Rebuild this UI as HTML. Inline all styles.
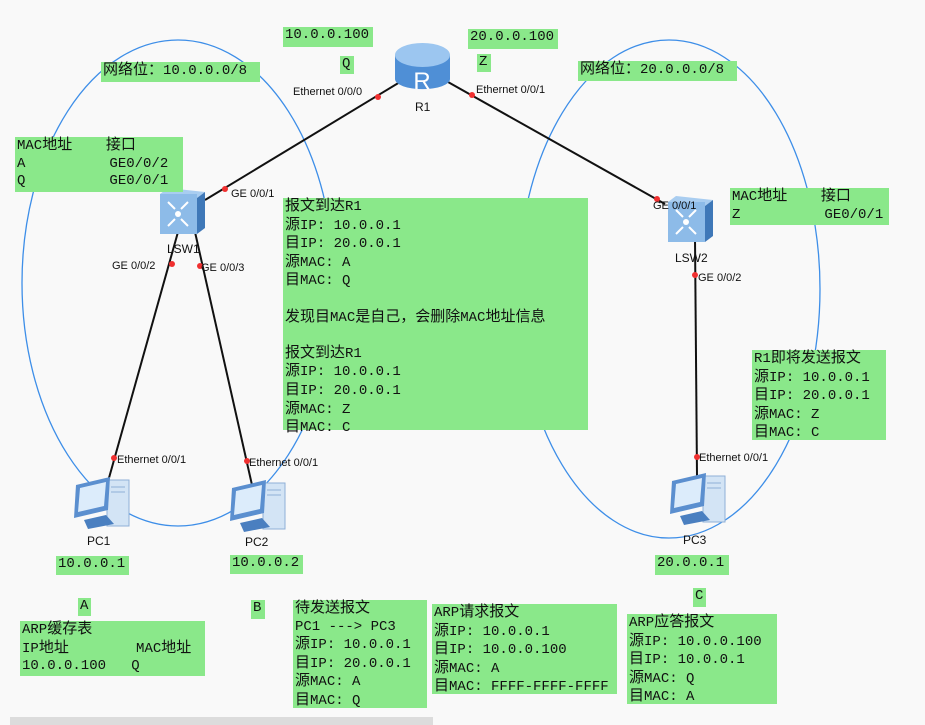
<!DOCTYPE html>
<html><head><meta charset="utf-8">
<style>
body{margin:0;width:925px;height:725px;background:#f9f9f9;overflow:hidden;position:relative;font-family:"Liberation Mono","Noto Sans CJK SC",monospace;}
.b{position:absolute;background:#8ae88a;font-size:14px;line-height:17.6px;color:#111;white-space:pre;padding:0 2px;box-sizing:border-box;overflow:visible}
.b .c{font-size:15px}
svg{position:absolute;left:0;top:0}
.l{font-family:"Liberation Sans",sans-serif;font-size:11px;fill:#111}
</style></head><body>
<svg width="925" height="725">
<defs>
<g id="pc">
<rect x="35" y="3" width="22" height="46" fill="#d3e4f5" stroke="#8fb0d6"/>
<line x1="39" y1="10" x2="53" y2="10" stroke="#8fb0d6"/><line x1="39" y1="15" x2="53" y2="15" stroke="#8fb0d6"/>
<polygon points="4,8 38,0 36,33 2,41" fill="#5b8fcf"/>
<polygon points="8,11 34,5 32,29 6,35" fill="#dcecfb"/>
<polygon points="12,43 34,38 42,47 16,52" fill="#4a7fc0"/>
</g>
<g id="sw">
<polygon points="0,6 8,0 45,4 37,10" fill="#a9cdf0"/>
<polygon points="37,10 45,4 45,40 37,46" fill="#3f78b8"/>
<rect x="0" y="6" width="37" height="40" fill="#8dbbe8"/>
<circle cx="18" cy="26" r="3" fill="#fff"/>
<path d="M8 14l7 7M28 14l-7 7M8 38l7-7M28 38l-7-7" stroke="#fff" stroke-width="2"/>
</g>
</defs>
<rect x="10" y="717" width="423" height="8" fill="#dcdcdc"/>
<ellipse cx="178" cy="283" rx="156" ry="243" fill="none" stroke="#3d8ee8" stroke-width="1.3"/>
<ellipse cx="669" cy="289" rx="151" ry="249" fill="none" stroke="#3d8ee8" stroke-width="1.3"/>
<g stroke="#111" stroke-width="2">
<line x1="400" y1="82" x2="205" y2="200"/>
<line x1="448" y1="82" x2="665" y2="204"/>
<line x1="178" y1="232" x2="100" y2="510"/>
<line x1="195" y1="232" x2="252" y2="485"/>
<line x1="695" y1="238" x2="697" y2="476"/>
</g>
<g fill="#f03030">
<circle cx="378" cy="97" r="3"/><circle cx="225" cy="189" r="3"/>
<circle cx="472" cy="95" r="3"/><circle cx="657" cy="199" r="3"/>
<circle cx="172" cy="264" r="3"/><circle cx="200" cy="266" r="3"/>
<circle cx="114" cy="458" r="3"/><circle cx="247" cy="461" r="3"/>
<circle cx="695" cy="275" r="3"/><circle cx="697" cy="457" r="3"/>
</g>
<path d="M395 55 v24 a27 10 0 0 0 55 0 v-24z" fill="#4f8fd6"/>
<ellipse cx="422.5" cy="55" rx="27.5" ry="12" fill="#9cc6f0"/>
<text x="422" y="89" font-family="Liberation Sans,sans-serif" font-size="24" fill="#fff" text-anchor="middle">R</text>
<use href="#sw" x="160" y="188"/>
<use href="#sw" x="668" y="196"/>
<use href="#pc" x="72" y="477"/>
<use href="#pc" x="228" y="480"/>
<use href="#pc" x="668" y="473"/>
<g class="l">
<text x="293" y="95">Ethernet 0/0/0</text>
<text x="476" y="93">Ethernet 0/0/1</text>
<text x="231" y="197">GE 0/0/1</text>
<text x="653" y="209">GE 0/0/1</text>
<text x="112" y="269">GE 0/0/2</text>
<text x="201" y="271">GE 0/0/3</text>
<text x="698" y="281">GE 0/0/2</text>
<text x="117" y="463">Ethernet 0/0/1</text>
<text x="249" y="466">Ethernet 0/0/1</text>
<text x="699" y="461">Ethernet 0/0/1</text>
<text x="415" y="111" font-size="12">R1</text>
<text x="167" y="253" font-size="12">LSW1</text>
<text x="675" y="262" font-size="12">LSW2</text>
<text x="87" y="545" font-size="12">PC1</text>
<text x="245" y="546" font-size="12">PC2</text>
<text x="683" y="544" font-size="12">PC3</text>
</g>
</svg>
<div class="b" style="left:283px;top:27px;width:90px;height:20px">10.0.0.100</div>
<div class="b" style="left:340px;top:56px;width:14px;height:18px">Q</div>
<div class="b" style="left:468px;top:29px;width:90px;height:20px">20.0.0.100</div>
<div class="b" style="left:477px;top:54px;width:14px;height:18px">Z</div>
<div class="b" style="left:101px;top:62px;width:159px;height:20px"><span class="c">网络位：</span>10.0.0.0/8</div>
<div class="b" style="left:578px;top:61px;width:159px;height:20px"><span class="c">网络位：</span>20.0.0.0/8</div>
<div class="b" style="left:15px;top:137px;width:168px;height:55px">MAC<span class="c">地址</span>    <span class="c">接口</span>
A          GE0/0/2
Q          GE0/0/1</div>
<div class="b" style="left:730px;top:188px;width:159px;height:37px">MAC<span class="c">地址</span>    <span class="c">接口</span>
Z          GE0/0/1</div>
<div class="b" style="left:283px;top:198px;width:305px;height:232px"><span class="c">报文到达</span>R1
<span class="c">源</span>IP: 10.0.0.1
<span class="c">目</span>IP: 20.0.0.1
<span class="c">源</span>MAC: A
<span class="c">目</span>MAC: Q

<span class="c">发现目</span>MAC<span class="c">是自己，会删除</span>MAC<span class="c">地址信息</span>

<span class="c">报文到达</span>R1
<span class="c">源</span>IP: 10.0.0.1
<span class="c">目</span>IP: 20.0.0.1
<span class="c">源</span>MAC: Z
<span class="c">目</span>MAC: C</div>
<div class="b" style="left:752px;top:350px;width:134px;height:90px">R1<span class="c">即将发送报文</span>
<span class="c">源</span>IP: 10.0.0.1
<span class="c">目</span>IP: 20.0.0.1
<span class="c">源</span>MAC: Z
<span class="c">目</span>MAC: C</div>
<div class="b" style="left:56px;top:556px;width:73px;height:19px">10.0.0.1</div>
<div class="b" style="left:230px;top:555px;width:73px;height:19px">10.0.0.2</div>
<div class="b" style="left:655px;top:555px;width:74px;height:20px">20.0.0.1</div>
<div class="b" style="left:78px;top:598px;width:13px;height:18px">A</div>
<div class="b" style="left:251px;top:600px;width:14px;height:19px">B</div>
<div class="b" style="left:693px;top:588px;width:13px;height:19px">C</div>
<div class="b" style="left:20px;top:621px;width:185px;height:55px">ARP<span class="c">缓存表</span>
IP<span class="c">地址</span>        MAC<span class="c">地址</span>
10.0.0.100   Q</div>
<div class="b" style="left:293px;top:600px;width:134px;height:108px"><span class="c">待发送报文</span>
PC1 ---> PC3
<span class="c">源</span>IP: 10.0.0.1
<span class="c">目</span>IP: 20.0.0.1
<span class="c">源</span>MAC: A
<span class="c">目</span>MAC: Q</div>
<div class="b" style="left:432px;top:604px;width:185px;height:90px">ARP<span class="c">请求报文</span>
<span class="c">源</span>IP: 10.0.0.1
<span class="c">目</span>IP: 10.0.0.100
<span class="c">源</span>MAC: A
<span class="c">目</span>MAC: FFFF-FFFF-FFFF</div>
<div class="b" style="left:627px;top:614px;width:150px;height:90px">ARP<span class="c">应答报文</span>
<span class="c">源</span>IP: 10.0.0.100
<span class="c">目</span>IP: 10.0.0.1
<span class="c">源</span>MAC: Q
<span class="c">目</span>MAC: A</div>
</body></html>
